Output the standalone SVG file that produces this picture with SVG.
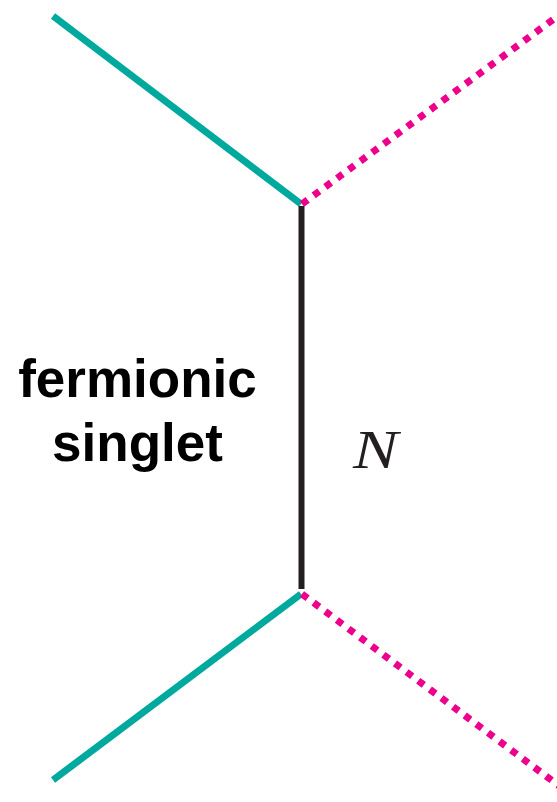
<svg xmlns="http://www.w3.org/2000/svg" width="557" height="802" viewBox="0 0 557 802">
<style>
.teal{stroke:#00A99D;stroke-width:7;fill:none}
.scalar{stroke:#EC008C;stroke-width:7;stroke-dasharray:7 7.5;fill:none}
.fermion{stroke:#231F20;stroke-width:6;fill:none}
.lbl{font-family:"Liberation Sans",Arial,sans-serif;font-weight:bold;font-size:53px;fill:#000}
.math{font-family:"Liberation Serif","Times New Roman",serif;font-style:italic;font-size:54px;fill:#231F20}
</style>
<rect width="557" height="802" fill="#fff"/>
<g id="connectors">
<line class="teal" x1="53" y1="16" x2="301" y2="204"/>
<line class="teal" x1="53" y1="780" x2="301" y2="594"/>
<line class="fermion" x1="301.5" y1="206" x2="301.5" y2="589"/>
<line class="scalar" x1="302" y1="204" x2="562" y2="13"/>
<line class="scalar" x1="302" y1="594" x2="562" y2="788"/>
</g>
<g id="label-singlet">
<text class="lbl" x="137.5" y="397" text-anchor="middle">fermionic</text>
<text class="lbl" x="137.5" y="461" text-anchor="middle">singlet</text>
</g>
<g id="label-N">
<text class="math" x="353" y="468" textLength="45" lengthAdjust="spacingAndGlyphs">N</text>
</g>
</svg>
